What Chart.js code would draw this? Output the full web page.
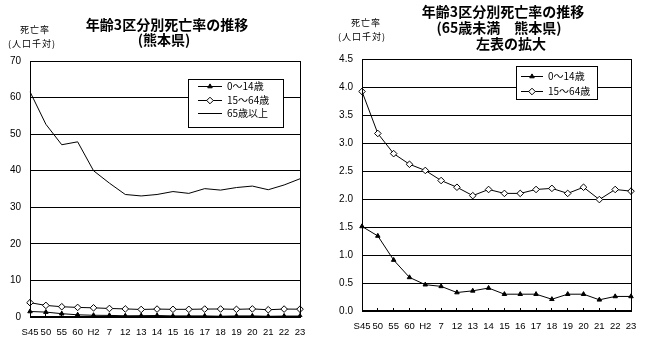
<!DOCTYPE html>
<html>
<head>
<meta charset="utf-8">
<script src="https://cdn.jsdelivr.net/npm/chart.js@4"></script>
<style>
  body { margin: 0; background: #fff; }
  .box { position: absolute; top: 0; height: 342px; }
</style>
</head>
<body>
<div class="box" style="left:0;width:330px"><canvas id="all" width="330" height="342"></canvas></div>
<div class="box" style="left:330px;width:328px"><canvas id="young" width="328" height="342"></canvas></div>
<script>
// 年次 (昭和45年～平成23年)
var years = ['S45', '50', '55', '60', 'H2', '7', '12', '13', '14', '15', '16', '17', '18', '19', '20', '21', '22', '23'];

// 年齢3区分別死亡率 (人口千対)
var age0to14  = [1.51, 1.34, 0.91, 0.60, 0.47, 0.44, 0.33, 0.36, 0.41, 0.30, 0.30, 0.30, 0.21, 0.30, 0.30, 0.20, 0.26, 0.26];
var age15to64 = [3.92, 3.17, 2.81, 2.62, 2.51, 2.33, 2.21, 2.06, 2.17, 2.10, 2.10, 2.17, 2.19, 2.10, 2.21, 1.99, 2.17, 2.14];
var age65up   = [61.6, 52.7, 47.1, 47.9, 40.0, 36.6, 33.5, 33.1, 33.5, 34.3, 33.8, 35.1, 34.7, 35.4, 35.8, 34.8, 36.1, 37.8];

var labels0to14 = '0～14歳';
var labels15to64 = '15～64歳';
var labels65up = '65歳以上';

var xFont = { family: '"Liberation Sans", Arial, sans-serif', size: 9.5 };
var yFont = { family: '"Liberation Sans", Arial, sans-serif', size: 10 };
var jpFont = '"Noto Sans CJK JP", sans-serif';

function ds0to14() {
  return { label: labels0to14, data: age0to14, borderColor: '#000', backgroundColor: '#000',
    borderWidth: 1, pointStyle: 'triangle', pointRadius: 2.6, pointBorderWidth: 1, tension: 0 };
}
function ds15to64() {
  return { label: labels15to64, data: age15to64, borderColor: '#000', backgroundColor: '#fff',
    borderWidth: 1, pointStyle: 'rectRot', pointRadius: 3.3, pointBorderWidth: 1, tension: 0 };
}

// frame, titles, unit label and boxed legend
var decor = {
  id: 'decor',
  afterDraw: function(chart, args, o) {
    var ctx = chart.ctx, a = chart.chartArea;
    ctx.save();
    ctx.strokeStyle = '#000';
    ctx.lineWidth = 1;
    ctx.strokeRect(Math.round(a.left) + 0.5, Math.round(a.top) + 0.5,
      Math.round(a.right - a.left), Math.round(a.bottom - a.top) - 1);

    ctx.fillStyle = '#000';
    ctx.textAlign = 'center';
    ctx.textBaseline = 'middle';
    ctx.font = 'bold 14px ' + jpFont;
    o.title.forEach(function(t) { ctx.fillText(t.text, t.x, t.y); });

    ctx.font = '9px ' + jpFont;
    ctx.letterSpacing = '1px';
    o.unit.forEach(function(t) { ctx.fillText(t.text, t.x, t.y); });
    ctx.letterSpacing = '0px';

    var L = o.legend;
    ctx.fillStyle = '#fff';
    ctx.fillRect(L.x, L.y, L.w, L.h);
    ctx.strokeRect(L.x + 0.5, L.y + 0.5, L.w, L.h);
    ctx.textAlign = 'left';
    ctx.font = '10px ' + jpFont;
    chart.data.datasets.forEach(function(d, i) {
      var y = L.rows[i] + 0.5;
      ctx.strokeStyle = d.borderColor;
      ctx.beginPath();
      ctx.moveTo(L.x1, y);
      ctx.lineTo(L.x2, y);
      ctx.stroke();
      if (d.pointRadius > 0) {
        ctx.fillStyle = d.backgroundColor;
        Chart.helpers.drawPoint(ctx, { pointStyle: d.pointStyle, radius: d.pointRadius, borderWidth: 1, rotation: 0 },
          (L.x1 + L.x2) / 2, y);
      }
      ctx.fillStyle = '#000';
      ctx.fillText(d.label, L.tx, y);
    });
    ctx.restore();
  }
};

function options(yMax, yStep, decimals, pad, yWidth, xHeight, decorOpts) {
  return {
    responsive: false,
    animation: false,
    layout: { padding: pad },
    plugins: { legend: { display: false }, title: { display: false }, tooltip: { enabled: false }, decor: decorOpts },
    elements: { line: { fill: false } },
    scales: {
      x: {
        offset: false,
        grid: { display: true, drawOnChartArea: false, drawTicks: true, tickLength: -3, color: '#000' },
        border: { display: true, color: '#000' },
        ticks: { color: '#000', font: xFont, padding: 13, maxRotation: 0, autoSkip: false },
        afterFit: function(s) { s.height = xHeight; }
      },
      y: {
        min: 0, max: yMax,
        grid: { color: '#000', drawTicks: false },
        border: { display: true, color: '#000' },
        ticks: { stepSize: yStep, color: '#000', font: yFont, padding: 9,
          callback: function(v) { return v.toFixed(decimals); } },
        afterFit: function(s) { s.width = yWidth; }
      }
    }
  };
}

new Chart(document.getElementById('all'), {
  type: 'line',
  data: {
    labels: years,
    datasets: [ds0to14(), ds15to64(),
      { label: labels65up, data: age65up, borderColor: '#000', backgroundColor: '#000',
        borderWidth: 1, pointRadius: 0, tension: 0 }]
  },
  options: options(70, 10, 0, { top: 61, right: 30, left: 0, bottom: 0 }, 30, 25, {
    title: [{ text: '年齢3区分別死亡率の推移', x: 167, y: 25 }, { text: '(熊本県)', x: 164, y: 40 }],
    unit: [{ text: '死亡率', x: 35, y: 30 }, { text: '(人口千対)', x: 32, y: 44 }],
    legend: { x: 188, y: 79, w: 95, h: 48, rows: [86, 100, 113], x1: 198, x2: 222, tx: 227 }
  }),
  plugins: [decor]
});

new Chart(document.getElementById('young'), {
  type: 'line',
  data: { labels: years, datasets: [ds0to14(), ds15to64()] },
  options: options(4.5, 0.5, 1, { top: 59, right: 27, left: 0, bottom: 0 }, 32, 31, {
    title: [{ text: '年齢3区分別死亡率の推移', x: 173, y: 12 },
            { text: '(65歳未満　熊本県)', x: 169, y: 28 },
            { text: '左表の拡大', x: 181, y: 44 }],
    unit: [{ text: '死亡率', x: 36, y: 23 }, { text: '(人口千対)', x: 32, y: 37 }],
    legend: { x: 186, y: 66, w: 81, h: 33, rows: [76, 91], x1: 191, x2: 213, tx: 218 }
  }),
  plugins: [decor]
});
</script>
</body>
</html>
